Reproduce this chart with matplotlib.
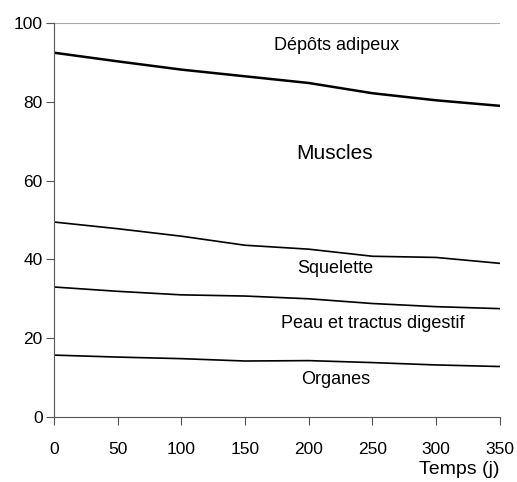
import matplotlib
matplotlib.use("Agg")
import matplotlib.pyplot as plt

plt.rcParams['font.family'] = ['Liberation Sans', 'DejaVu Sans']

jours = [0, 50, 100, 150, 200, 250, 300, 350]
depots = [92.5, 90.3, 88.2, 86.5, 84.8, 82.2, 80.4, 79.0]
muscles = [49.5, 47.8, 45.9, 43.6, 42.6, 40.8, 40.5, 39.0]
peau = [33.0, 31.9, 31.0, 30.7, 30.0, 28.8, 28.0, 27.5]
organes = [15.7, 15.2, 14.8, 14.2, 14.3, 13.8, 13.2, 12.8]

etiquettes = ["Dépôts adipeux", "Muscles", "Squelette", "Peau et tractus digestif", "Organes"]
pos_x = [222, 220, 221, 250, 221]
pos_y = [94.4, 67.0, 37.8, 23.8, 9.4]
tailles = [13, 15, 13, 13, 13]

fig = plt.figure(figsize=(5.17, 4.82), dpi=100)
ax = fig.add_axes([0.104, 0.135, 0.863, 0.817])

ax.plot(jours, depots, color='black', lw=1.8)
ax.plot(jours, muscles, color='black', lw=1.2)
ax.plot(jours, peau, color='black', lw=1.2)
ax.plot(jours, organes, color='black', lw=1.2)
ax.axhline(100, color='#aaaaaa', lw=1.5)

for t, x, y, s in zip(etiquettes, pos_x, pos_y, tailles):
    ax.text(x, y, t, ha='center', va='center', fontsize=s)

ax.set_xlim(0, 350)
ax.set_ylim(0, 100)
ax.set_xticks(range(0, 351, 50))
ax.set_yticks(range(0, 101, 20))
for s in ['top', 'right']:
    ax.spines[s].set_visible(False)
ax.spines['left'].set_color('#555555')
ax.spines['bottom'].set_color('#555555')
ax.tick_params(labelsize=12.5, length=6, color='#555555', pad=2)
ax.tick_params(axis='x', pad=12)
ax.set_xlabel("Temps (j)", fontsize=14, loc='right', labelpad=3)

fig.savefig("out.png", dpi=100)
